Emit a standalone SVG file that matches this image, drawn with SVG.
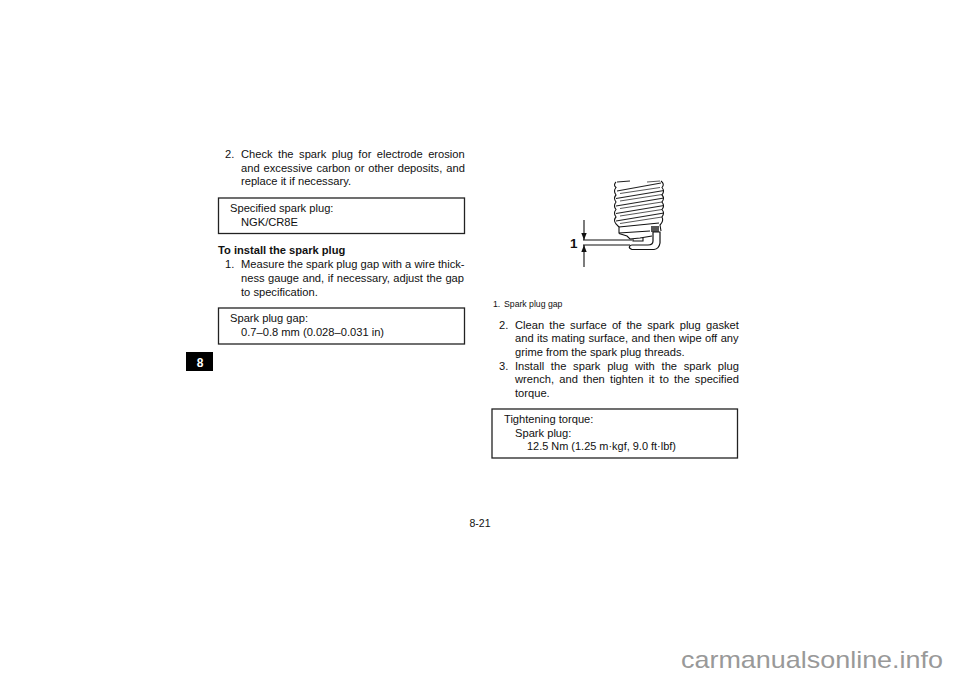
<svg xmlns="http://www.w3.org/2000/svg" width="960" height="678" viewBox="0 0 960 678">
<style>
text{font-family:"Liberation Sans",Arial,sans-serif;font-size:11.15px;fill:#111}
.box{fill:#fff;stroke:#222;stroke-width:1.3}
.ln{fill:none;stroke:#111;stroke-width:1.1}
.th{fill:none;stroke:#222;stroke-width:1.1}
.th2{fill:none;stroke:#444;stroke-width:.9}
.small{font-size:8.7px}
</style>
<rect width="960" height="678" fill="#fff"/>
<g id="tab"><rect x="186" y="352" width="27" height="19" fill="#000"/><text x="200" y="366.500" text-anchor="middle" style="fill:#fff;font-weight:bold;font-size:12px">8</text></g>
<text x="480" y="527" text-anchor="middle" style="font-size:10.500px">8-21</text>
<g id="left-text">
<text x="225" y="158">2.</text><text x="241" y="158" style="word-spacing:2.4px">Check the spark plug for electrode erosion</text>
<text x="241" y="172" style="word-spacing:.87px">and excessive carbon or other deposits, and</text>
<text x="241" y="185">replace it if necessary.</text>
<text x="218" y="254" style="font-weight:bold">To install the spark plug</text>
<text x="225" y="268">1.</text><text x="241" y="268">Measure the spark plug gap with a wire thick-</text>
<text x="241" y="282" style="word-spacing:.39px">ness gauge and, if necessary, adjust the gap</text>
<text x="241" y="296">to specification.</text>
</g>
<g id="box-specified"><rect class="box" x="218.500" y="198" width="246" height="35.500"/><text x="230" y="211.500">Specified spark plug:</text><text x="241" y="225.500">NGK/CR8E</text></g>
<g id="box-gap"><rect class="box" x="218.500" y="308" width="246" height="36"/><text x="230" y="322">Spark plug gap:</text><text x="241" y="336">0.7–0.8 mm (0.028–0.031 in)</text></g>
<g id="plug">
<path class="th" d="M617 182 L630 181 M617 191 L661 183 M616 198.500 L664 190.500 M616 206 L664 198 M616 213.500 L664 205.500 M616 221 L664 213"/>
<path class="th2" d="M647 182 L660 181 M620 193.500 L660 187.500 M620 201 L662 194.500 M620 208.500 L662 202 M620 216 L662 209.500 M620 223.500 L662 217"/>
<path class="ln" d="M616 182 Q613 185 616 187.500 Q613 191 616 195 Q613 198 616 202 Q613 206 616 209.500 Q613 213 616 217 Q613 220 616 224 L619 227 V233 L650 231 M661 181 Q665 184 662 187.500 Q665 191 662 195 Q665 198 662 202 Q665 206 662 209.500 Q665 213 662 217 Q664 221 660 225 L661 231"/>
<path class="ln" d="M619 227 L659 223 M619 233.500 L627 236 L630 239 L640 238 L652 236 M633 238.500 V241 H643 V238"/>
<path d="M651 226 H659 V232 H651 Z" fill="#555"/>
<path d="M653 232 H660 V243 Q659 249 654 249.500 H632 Q628.500 248 629.500 246.500 Q630 245 632 245 H648 Q653 245 653 241 Z" fill="#fff" stroke="#111" stroke-width="1.200"/>
<path class="ln" d="M583 240 H632 M583 245 H630"/>
<path class="ln" d="M584 220 V240 M584 245 V267"/>
<path d="M584 240 L581.300 233 H586.700 Z M584 245 L581.300 252 H586.700 Z" fill="#111"/>
<text x="570" y="248" style="font-weight:bold;font-size:13.500px">1</text>
</g>
<text class="small" x="493" y="307">1.</text><text class="small" x="504" y="307">Spark plug gap</text>
<g id="right-text">
<text x="499" y="328.500">2.</text><text x="515" y="328.500" style="word-spacing:2.16px">Clean the surface of the spark plug gasket</text>
<text x="515" y="342" style="word-spacing:.34px">and its mating surface, and then wipe off any</text>
<text x="515" y="356">grime from the spark plug threads.</text>
<text x="499" y="369.500">3.</text><text x="515" y="369.500" style="word-spacing:3.67px">Install the spark plug with the spark plug</text>
<text x="515" y="383" style="word-spacing:2.16px">wrench, and then tighten it to the specified</text>
<text x="515" y="396.500">torque.</text>
</g>
<g id="box-torque"><rect class="box" x="492" y="409" width="245.500" height="49"/><text x="504" y="423">Tightening torque:</text><text x="515" y="436.500">Spark plug:</text><text x="527" y="450" style="font-size:10.950px">12.5 Nm (1.25 m·kgf, 9.0 ft·lbf)</text></g>
<text x="681" y="668" textLength="262" lengthAdjust="spacingAndGlyphs" style="font-size:24px;fill:#999">carmanualsonline.info</text>
</svg>
